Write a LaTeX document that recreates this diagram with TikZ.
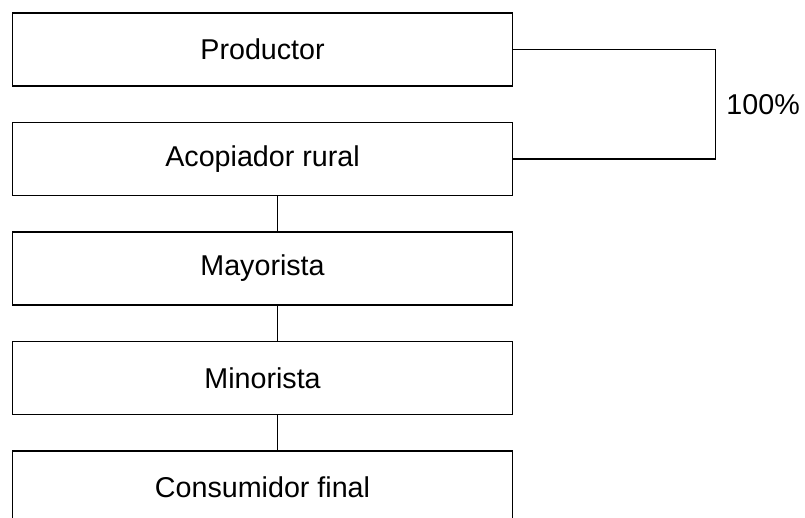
\documentclass[tikz,border=0pt]{standalone}
\usepackage{fontspec}
\setmainfont{Liberation Sans}
\usetikzlibrary{positioning,calc}
\tikzset{
	canal box/.style={
		draw=black, line width=1pt,
		minimum width=375pt, minimum height=54.75pt,
		inner sep=0pt, outer sep=0pt,
		font=\fontsize{21.5}{26}\selectfont
	},
	canal link/.style={
		draw=black, line width=0.85pt
	},
	canal label/.style={
		anchor=west, inner sep=0pt,
		font=\fontsize{21.5}{26}\selectfont
	}
}

\begin{document}
\begin{tikzpicture}[node distance=27.4pt]
	\useasboundingbox (0,0) rectangle (603.75pt,-387.75pt);
	
	\node[canal box, anchor=north west] (prod) at (9.4pt,-9.75pt) {Productor};
	\node[canal box, below=of prod] (acop) {Acopiador rural};
	\node[canal box, below=of acop] (may) {Mayorista};
	\node[canal box, below=of may] (min) {Minorista};
	\node[canal box, below=of min] (cons) {Consumidor final};
	
	% corchete del 100%
	\coordinate (brace) at ([xshift=152.25pt]prod.east);
	\draw[canal link] (prod.east) -- (brace) -- (brace |- acop.east) -- (acop.east);
	\node[canal label] (pct) at ($(brace)!0.5!(brace |- acop.east) + (8pt,0)$) {100\%};
	
	\foreach \i/\j in {acop/may, may/min, min/cons} {
		\draw[canal link] ([xshift=10.9pt]\i.south) -- ([xshift=10.9pt]\j.north);
	}
\end{tikzpicture}
\end{document}
